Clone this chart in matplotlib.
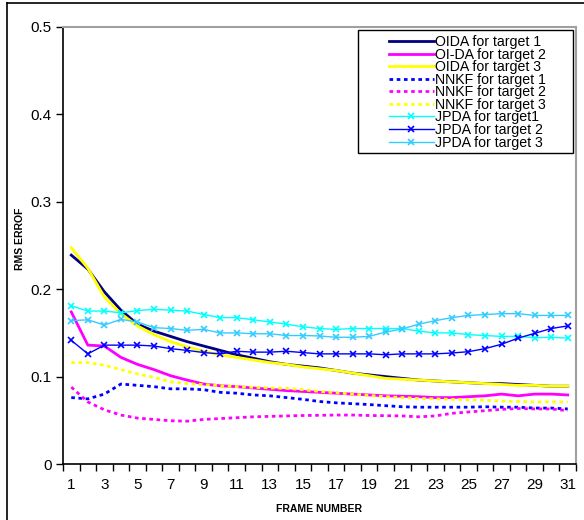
import matplotlib
matplotlib.use("Agg")
import matplotlib.pyplot as plt
from matplotlib.lines import Line2D
from matplotlib.patches import Rectangle
import numpy as np

plt.rcParams["font.family"] = ["Liberation Sans", "DejaVu Sans"]

frames = np.arange(1, 32)

oida_t1 = [0.239, 0.223, 0.197, 0.176, 0.160, 0.152, 0.146, 0.140, 0.135, 0.130,
           0.125, 0.121, 0.117, 0.114, 0.112, 0.110, 0.107, 0.104, 0.102, 0.100,
           0.098, 0.096, 0.095, 0.094, 0.093, 0.092, 0.092, 0.091, 0.090, 0.089, 0.089]
oida_t2 = [0.174, 0.136, 0.135, 0.122, 0.114, 0.108, 0.101, 0.096, 0.0915, 0.0895,
           0.0885, 0.087, 0.0855, 0.084, 0.083, 0.082, 0.081, 0.080, 0.079, 0.078,
           0.0775, 0.077, 0.076, 0.076, 0.077, 0.078, 0.080, 0.078, 0.080, 0.080, 0.079]
oida_t3 = [0.2475, 0.224, 0.191, 0.172, 0.158, 0.148, 0.140, 0.134, 0.129, 0.125,
           0.122, 0.119, 0.116, 0.114, 0.111, 0.109, 0.107, 0.104, 0.101, 0.098,
           0.097, 0.096, 0.095, 0.094, 0.093, 0.092, 0.091, 0.090, 0.090, 0.089, 0.089]
nnkf_t1 = [0.076, 0.0745, 0.080, 0.0915, 0.090, 0.0885, 0.086, 0.086, 0.085, 0.082,
           0.081, 0.079, 0.078, 0.076, 0.074, 0.0715, 0.070, 0.069, 0.068, 0.0667,
           0.0655, 0.065, 0.065, 0.065, 0.065, 0.0655, 0.065, 0.065, 0.064, 0.064, 0.063]
nnkf_t2 = [0.088, 0.071, 0.062, 0.056, 0.0525, 0.051, 0.0495, 0.049, 0.051, 0.052,
           0.053, 0.054, 0.0545, 0.055, 0.0555, 0.0557, 0.056, 0.056, 0.0555, 0.0553,
           0.055, 0.054, 0.055, 0.058, 0.0595, 0.061, 0.0625, 0.0635, 0.063, 0.063, 0.061]
nnkf_t3 = [0.116, 0.116, 0.113, 0.108, 0.103, 0.099, 0.094, 0.092, 0.091, 0.0895,
           0.0885, 0.0877, 0.087, 0.0865, 0.085, 0.083, 0.0815, 0.080, 0.0785, 0.077,
           0.076, 0.075, 0.0745, 0.074, 0.0735, 0.073, 0.072, 0.0715, 0.071, 0.071, 0.071]
jpda_t1 = [0.181, 0.175, 0.175, 0.173, 0.1755, 0.177, 0.176, 0.175, 0.171, 0.1675,
           0.1675, 0.165, 0.1625, 0.160, 0.157, 0.155, 0.154, 0.155, 0.155, 0.155,
           0.155, 0.152, 0.150, 0.150, 0.148, 0.147, 0.146, 0.146, 0.1445, 0.145, 0.144]
jpda_t2 = [0.1415, 0.126, 0.136, 0.136, 0.136, 0.135, 0.132, 0.130, 0.1275, 0.126,
           0.129, 0.128, 0.128, 0.129, 0.1275, 0.126, 0.126, 0.126, 0.126, 0.125,
           0.126, 0.126, 0.126, 0.127, 0.1285, 0.132, 0.137, 0.144, 0.1495, 0.155, 0.158]
jpda_t3 = [0.164, 0.165, 0.159, 0.1655, 0.1625, 0.156, 0.155, 0.153, 0.154, 0.150,
           0.150, 0.149, 0.149, 0.147, 0.147, 0.1465, 0.145, 0.145, 0.146, 0.151,
           0.1545, 0.160, 0.164, 0.1675, 0.170, 0.171, 0.172, 0.172, 0.170, 0.170, 0.170]

labels = ["OIDA for target 1", "OI-DA for target 2", "OIDA for target 3",
          "NNKF for target 1", "NNKF for target 2", "NNKF for target 3",
          "JPDA for target1", "JPDA for target 2", "JPDA for target 3"]

dots = (0, (1.3, 1.3))
series = [
    (oida_t1, dict(color="#000080", lw=2.0)),
    (oida_t2, dict(color="#FF00FF", lw=2.0)),
    (oida_t3, dict(color="#FFFF00", lw=2.0)),
    (nnkf_t1, dict(color="#0000FF", lw=2.0, ls=dots)),
    (nnkf_t2, dict(color="#FF00FF", lw=2.0, ls=dots)),
    (nnkf_t3, dict(color="#FFFF00", lw=2.0, ls=dots)),
    (jpda_t1, dict(color="#00FFFF", lw=1.0, marker="x", ms=4.5, mew=1.2)),
    (jpda_t2, dict(color="#0000FF", lw=1.0, marker="x", ms=4.5, mew=1.2)),
    (jpda_t3, dict(color="#33CCFF", lw=1.0, marker="x", ms=4.5, mew=1.2)),
]

fig = plt.figure(figsize=(5.84, 5.2), dpi=100)
ax = fig.add_axes([63 / 584, 1 - 464 / 520, 513 / 584, 437 / 520])

handles = []
for vals, style in series:
    h, = ax.plot(frames, vals, solid_joinstyle="round", **style)
    handles.append(h)

ax.set_xlim(0.5, 31.5)
ax.set_ylim(0, 0.5)
ax.set_yticks([0, 0.1, 0.2, 0.3, 0.4, 0.5])
ax.set_yticklabels(["0", "0.1", "0.2", "0.3", "0.4", "0.5"])
ax.set_xticks(frames[::2])
ax.set_xticks(np.arange(0.5, 32, 1), minor=True)
ax.tick_params(axis="x", which="major", length=0, pad=10, labelsize=11)
ax.tick_params(axis="x", which="minor", length=5, width=1, direction="out")
ax.tick_params(axis="y", length=5, width=1, direction="out", labelsize=11, pad=3)

for side in ("top", "right"):
    ax.spines[side].set_color("#a0a0a0")
    ax.spines[side].set_linewidth(1.5)
for side in ("left", "bottom"):
    ax.spines[side].set_linewidth(1.2)

fig.text(0.547, 0.021, "FRAME NUMBER", ha="center", va="center",
         fontsize=7.5, fontweight="bold")
fig.text(0.034, 1 - 239 / 520, "RMS ERROF", ha="center", va="center",
         rotation=90, fontsize=7.5, fontweight="bold")

# legend without frame, frame drawn separately
leg = fig.legend(handles, labels, loc="upper left",
                 bbox_to_anchor=(379 / 584, 1 - 25 / 520),
                 frameon=False, fontsize=10.2, handlelength=3.15,
                 handletextpad=0.1, labelspacing=-0.10, borderpad=0.2)
fig.add_artist(Rectangle((358 / 584, 1 - 153 / 520), 215 / 584, 123 / 520,
                         transform=fig.transFigure, fill=False,
                         edgecolor="black", lw=1.0))

# outer chart border (cut off at right and bottom)
fig.add_artist(Line2D([7 / 584, 7 / 584], [0, 1 - 3 / 520],
                      transform=fig.transFigure, color="black", lw=1.2))
fig.add_artist(Line2D([7 / 584, 1], [1 - 3 / 520, 1 - 3 / 520],
                      transform=fig.transFigure, color="black", lw=1.2))

fig.savefig("out.png", dpi=100, facecolor="white")
